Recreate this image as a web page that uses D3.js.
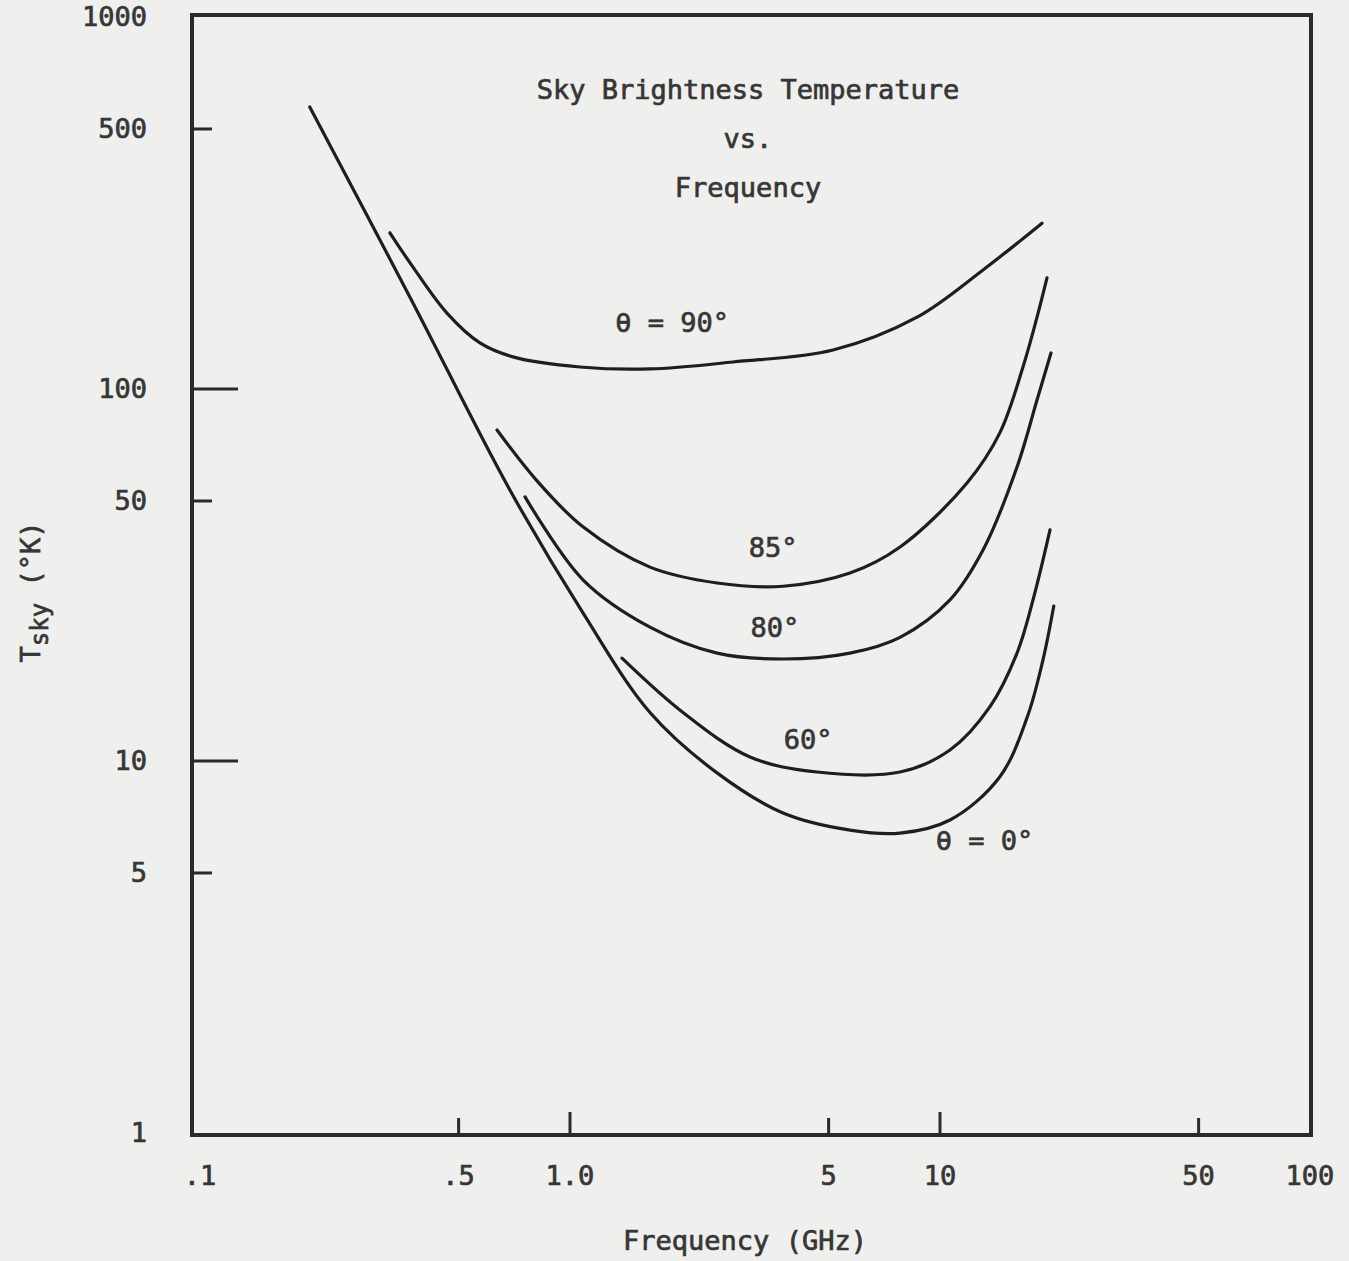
<!DOCTYPE html>
<html>
  <head>
    <title>Sky Brightness Temperature vs. Frequency</title>
    <style>
      body { margin: 0; background: #efefed; }
      svg { display: block; }
      text { font-family: "DejaVu Sans Mono", monospace; fill: #363636; stroke: #363636; stroke-width: 0.7px; }
    </style>
  </head>
  <body>
  <svg width="1349" height="1261"></svg>

  <script src="https://cdnjs.cloudflare.com/ajax/libs/d3/7.8.5/d3.min.js"></script>
  <script>

// frequency in GHz, T in kelvin
var freq0  = [0.198, 0.37, 0.688, 1.084, 1.645, 2.497, 3.765, 5.71, 7.80, 10.64, 14.5, 17.2, 18.98, 20.3];
var temp0  = [573, 176, 53.5, 25.0, 13.5, 9.29, 7.25, 6.52, 6.40, 6.94, 9.06, 13.1, 18.7, 26.1];

var freq60 = [1.382, 2.02, 3.065, 4.65, 7.80, 10.64, 13.65, 16.15, 17.84, 19.83];
var temp60 = [18.9, 13.5, 10.25, 9.34, 9.34, 10.7, 14.0, 19.5, 27.1, 41.8];

var freq80 = [0.756, 1.084, 1.645, 2.497, 3.765, 5.71, 7.80, 10.64, 13.07, 16.15, 18.29, 19.95];
var temp80 = [51.3, 30.7, 22.9, 19.5, 18.8, 19.5, 21.5, 27.1, 36.9, 61.7, 93.4, 125];

var freq85 = [0.635, 0.81, 1.084, 1.645, 2.497, 3.765, 5.71, 7.80, 11.83, 14.5, 16.76, 18.29, 19.46];
var temp85 = [77.6, 57.0, 42.6, 33.2, 30.1, 29.5, 32.0, 37.6, 55.9, 76.1, 114.6, 156, 199];

var freq90 = [0.326, 0.376, 0.465, 0.571, 0.701, 1.064, 1.645, 2.757, 5.14, 8.67, 13.07, 18.87];
var temp90 = [263, 213, 160, 133, 122, 114.6, 113.2, 118.2, 127.3, 156, 209, 279];

var yTicks = [500, 100, 50, 10, 5];
var yTickLong = [100, 10];
var yLabels = ["1000", "500", "100", "50", "10", "5", "1"];
var yLabelVals = [1000, 500, 100, 50, 10, 5, 1];

var xTicks = [0.5, 1, 5, 10, 50];
var xTickLong = [1, 10];
var xLabels = [".1", ".5", "1.0", "5", "10", "50", "100"];
var xLabelVals = [0.1, 0.5, 1, 5, 10, 50, 100];

var curveLabels = [
  { text: "\u03b8 = 90\u00b0", f: 1.887, t: 151 },
  { text: "85\u00b0", f: 3.54, t: 37.4 },
  { text: "80\u00b0", f: 3.58, t: 22.8 },
  { text: "60\u00b0", f: 4.40, t: 11.4 },
  { text: "\u03b8 = 0\u00b0", f: 13.2, t: 6.13 }
];

var svg = d3.select("svg");

var x = d3.scaleLog().domain([0.1, 100]).range([200, 1310]);
var y = d3.scaleLog().domain([1, 1000]).range([1133, 17]);

// frame
svg.append("rect")
  .attr("x", 192)
  .attr("y", 15)
  .attr("width", 1311 - 192)
  .attr("height", 1135 - 15)
  .attr("fill", "none")
  .attr("stroke", "#2a2a2a")
  .attr("stroke-width", 4);

// inward ticks on left side
svg.append("g").selectAll("line")
  .data(yTicks)
  .enter().append("line")
    .attr("x1", 192)
    .attr("x2", function(d) { return yTickLong.indexOf(d) >= 0 ? 238 : 212; })
    .attr("y1", function(d) { return y(d); })
    .attr("y2", function(d) { return y(d); })
    .attr("stroke", "#2a2a2a")
    .attr("stroke-width", 3);

svg.append("g").selectAll("line")
  .data(xTicks)
  .enter().append("line")
    .attr("x1", function(d) { return x(d); })
    .attr("x2", function(d) { return x(d); })
    .attr("y1", 1135)
    .attr("y2", function(d) { return xTickLong.indexOf(d) >= 0 ? 1112 : 1118; })
    .attr("stroke", "#2a2a2a")
    .attr("stroke-width", 3);

svg.append("g").selectAll("text")
  .data(yLabelVals)
  .enter().append("text")
    .attr("x", 147)
    .attr("y", function(d) { return y(d); })
    .attr("dy", "0.35em")
    .attr("text-anchor", "end")
    .style("font-size", "27px")
    .text(function(d, i) { return yLabels[i]; });

svg.append("g").selectAll("text")
  .data(xLabelVals)
  .enter().append("text")
    .attr("x", function(d) { return x(d); })
    .attr("y", 1185)
    .attr("text-anchor", "middle")
    .style("font-size", "27px")
    .text(function(d, i) { return xLabels[i]; });

// axis titles
svg.append("text")
  .attr("x", 745)
  .attr("y", 1250)
  .attr("text-anchor", "middle")
  .style("font-size", "27px")
  .text("Frequency (GHz)");

var ylab = svg.append("text")
  .attr("transform", "translate(40,592) rotate(-90)")
  .attr("text-anchor", "middle")
  .style("font-size", "27px");
ylab.append("tspan").text("T");
ylab.append("tspan").attr("dy", 8).style("font-size", "24px").text("sky");
ylab.append("tspan").attr("dy", -8).text(" (\u00b0K)");

// title block
var titleLines = ["Sky Brightness Temperature", "vs.", "Frequency"];
svg.append("g").selectAll("text")
  .data(titleLines)
  .enter().append("text")
    .attr("x", 748)
    .attr("y", function(d, i) { return 99 + i * 49; })
    .attr("text-anchor", "middle")
    .style("font-size", "27px")
    .text(function(d) { return d; });

var line = d3.line()
  .x(function(d) { return x(d[0]); })
  .y(function(d) { return y(d[1]); })
  .curve(d3.curveCatmullRom.alpha(0.5));

var series = [
  d3.zip(freq0, temp0),
  d3.zip(freq60, temp60),
  d3.zip(freq80, temp80),
  d3.zip(freq85, temp85),
  d3.zip(freq90, temp90)
];

svg.append("g").selectAll("path")
  .data(series)
  .enter().append("path")
    .attr("d", line)
    .attr("fill", "none")
    .attr("stroke", "#1e1e1e")
    .attr("stroke-width", 3.2)
    .attr("stroke-linecap", "round");

svg.append("g").selectAll("text")
  .data(curveLabels)
  .enter().append("text")
    .attr("x", function(d) { return x(d.f); })
    .attr("y", function(d) { return y(d.t); })
    .attr("dy", "0.35em")
    .attr("text-anchor", "middle")
    .style("font-size", "27px")
    .text(function(d) { return d.text; });

  </script>
  </body>
</html>
